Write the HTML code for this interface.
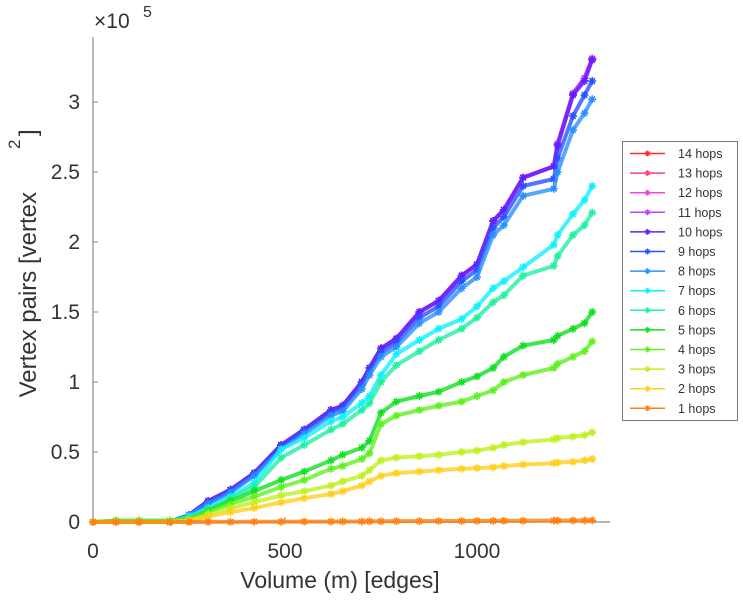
<!DOCTYPE html>
<html><head><meta charset="utf-8">
<style>
html,body{margin:0;padding:0;background:#fff;}
svg{display:block;font-family:"Liberation Sans",Arial,sans-serif;}
</style></head>
<body>
<svg id="chart" width="743" height="600" viewBox="0 0 743 600"></svg>
<script>
const xVals = [0,60,120,200,250,300,358,420,490,550,620,650,700,720,750,790,850,900,960,1000,1042,1070,1120,1200,1210,1250,1280,1300];
const s10 = [0,0,0,0,0.05,0.15,0.23,0.35,0.55,0.66,0.8,0.83,1.0,1.1,1.24,1.31,1.5,1.58,1.76,1.84,2.15,2.23,2.46,2.54,2.69,3.05,3.15,3.3];
const s11 = [0,0,0,0,0.05,0.15,0.23,0.35,0.55,0.66,0.8,0.83,1.0,1.1,1.24,1.31,1.5,1.58,1.76,1.84,2.15,2.23,2.46,2.54,2.7,3.06,3.17,3.31];
const s12 = s11.slice();
const s13 = s11.slice();
const s14 = s11.slice();
const s9 = [0,0,0,0,0.05,0.14,0.22,0.34,0.54,0.65,0.78,0.81,0.98,1.08,1.21,1.28,1.46,1.54,1.72,1.8,2.1,2.18,2.4,2.45,2.6,2.9,3.05,3.15];
const s8 = [0,0,0,0,0.05,0.13,0.21,0.33,0.52,0.63,0.76,0.79,0.95,1.05,1.18,1.25,1.42,1.5,1.67,1.75,2.05,2.12,2.33,2.38,2.5,2.8,2.92,3.02];
const s7 = [0,0,0,0,0.04,0.1,0.18,0.28,0.52,0.6,0.72,0.75,0.85,0.9,1.05,1.2,1.3,1.38,1.45,1.54,1.67,1.72,1.82,1.98,2.05,2.2,2.3,2.4];
const s6 = [0,0,0,0,0.03,0.09,0.17,0.25,0.46,0.55,0.66,0.7,0.8,0.85,1.0,1.12,1.22,1.3,1.38,1.46,1.57,1.62,1.76,1.83,1.9,2.05,2.12,2.21];
const s5 = [0,0.01,0.01,0.01,0.02,0.08,0.15,0.22,0.3,0.36,0.44,0.48,0.53,0.58,0.78,0.86,0.9,0.93,1.0,1.04,1.1,1.18,1.26,1.3,1.33,1.38,1.42,1.5];
const s4 = [0,0.01,0.01,0.01,0.02,0.07,0.13,0.18,0.25,0.3,0.38,0.4,0.45,0.49,0.7,0.76,0.8,0.83,0.86,0.9,0.94,1.0,1.05,1.1,1.13,1.18,1.22,1.29];
const s3 = [0,0,0,0,0.01,0.05,0.1,0.14,0.19,0.22,0.26,0.29,0.33,0.37,0.44,0.46,0.47,0.48,0.5,0.51,0.53,0.55,0.57,0.59,0.6,0.61,0.62,0.64];
const s2 = [0,0,0,0,0.01,0.04,0.07,0.1,0.14,0.17,0.2,0.22,0.26,0.29,0.33,0.35,0.36,0.37,0.38,0.385,0.39,0.4,0.41,0.42,0.425,0.43,0.44,0.45];
const s1 = [0,0,0,0,0,0.001,0.001,0.002,0.002,0.003,0.003,0.004,0.004,0.005,0.005,0.006,0.006,0.007,0.007,0.008,0.008,0.009,0.009,0.01,0.01,0.011,0.011,0.012];
const seriesNames = ["14 hops","13 hops","12 hops","11 hops","10 hops","9 hops","8 hops","7 hops","6 hops","5 hops","4 hops","3 hops","2 hops","1 hops"];
const seriesData = [s14,s13,s12,s11,s10,s9,s8,s7,s6,s5,s4,s3,s2,s1];
const colors = ["#ff2a2a","#ff3c8c","#ff40e0","#c040ff","#6020ff","#2a50ff","#2a90ff","#10f0ff","#20f0a0","#10e020","#60f020","#c0f020","#ffd020","#ff8010"];
const xTicks = [0,500,1000];
const yTicks = [0,0.5,1,1.5,2,2.5,3];
const yTickLabels = ["0","0.5","1","1.5","2","2.5","3"];

const NS = "http://www.w3.org/2000/svg";
const svg = document.getElementById("chart");
const X0 = 93, Y0 = 522, XR = 610, YT = 37;
function xs(v){ return X0 + v*0.384; }
function ys(v){ return Y0 - v*140; }
function mk(tag, attrs, parent){
  const e = document.createElementNS(NS, tag);
  for (const k in attrs) e.setAttribute(k, attrs[k]);
  (parent||svg).appendChild(e);
  return e;
}
function star(g, cx, cy, r, color, w){
  const d = `M${cx-r},${cy}H${cx+r}M${cx},${cy-r}V${cy+r}M${cx-r*0.7},${cy-r*0.7}L${cx+r*0.7},${cy+r*0.7}M${cx-r*0.7},${cy+r*0.7}L${cx+r*0.7},${cy-r*0.7}`;
  const p = mk("path", {d:d, stroke:color, "stroke-width":w||1.2, fill:"none"}, g);
  
  
}

// axes
const axes = mk("g", {});


const xl = mk("line", {x1:X0, y1:Y0, x2:XR, y2:Y0, stroke:"#888", "stroke-width":1.2}, axes);


const yl = mk("line", {x1:X0, y1:Y0, x2:X0, y2:YT, stroke:"#888", "stroke-width":1.2}, axes);


xTicks.forEach(t => {
  const tk = mk("line", {x1:xs(t), y1:Y0, x2:xs(t), y2:Y0-5, stroke:"#888"}, axes);
  
  
  const tx = mk("text", {x:xs(t), y:558, "text-anchor":"middle", "font-size":21, fill:"#333"}, axes);
  tx.textContent = String(t);
  
  
});
yTicks.forEach((t,i) => {
  const tk = mk("line", {x1:X0, y1:ys(t), x2:X0+5, y2:ys(t), stroke:"#888"}, axes);
  
  
  const tx = mk("text", {x:80, y:ys(t)+7, "text-anchor":"end", "font-size":21, fill:"#333"}, axes);
  tx.textContent = yTickLabels[i];
  
  
});

// series
const plot = mk("g", {});


seriesData.forEach((arr, si) => {
  const g = mk("g", {}, plot);
  
  
  const pts = arr.map((v,i) => xs(xVals[i]) + "," + ys(v)).join(" ");
  const pl = mk("polyline", {points:pts, fill:"none", stroke:colors[si], "stroke-width":4, "stroke-opacity":0.8, "stroke-linejoin":"round"}, g);
  
  
  arr.forEach((v,i) => star(g, xs(xVals[i]), ys(v), 4, colors[si], 1.5));
});

// labels
const xt = mk("text", {x:340, y:588, "text-anchor":"middle", "font-size":23, fill:"#333"});
xt.textContent = "Volume (m) [edges]";


const yt = mk("text", {transform:"translate(36,192) rotate(-90)", "text-anchor":"end", "font-size":24, fill:"#333"});
yt.textContent = "Vertex pairs [vertex";


const ys2 = mk("text", {transform:"translate(20,149) rotate(-90)", "text-anchor":"start", "font-size":17, fill:"#333"});
ys2.textContent = "2";


const ys3 = mk("text", {transform:"translate(36,136) rotate(-90)", "text-anchor":"start", "font-size":24, fill:"#333"});
ys3.textContent = "]";


const mult = mk("text", {x:94, y:28, "font-size":21, fill:"#333"});
mult.textContent = "\u00d710";


const mexp = mk("text", {x:143, y:17, "font-size":16, fill:"#333"});
mexp.textContent = "5";



// legend
const lg = mk("g", {});


const lb = mk("rect", {x:622.5, y:141.5, width:115, height:279, fill:"#fff", stroke:"#777", "stroke-width":1}, lg);


seriesNames.forEach((n, i) => {
  const y = 153.5 + i*19.6;
  const e = mk("g", {}, lg);
  
  
  mk("line", {x1:630, y1:y, x2:665, y2:y, stroke:colors[i], "stroke-width":1.5}, e);
  star(e, 647.5, y, 3, colors[i], 1.2);
  const t = mk("text", {x:678, y:y+4.5, "font-size":12.5, fill:"#333"}, e);
  t.textContent = n;
});
</script>
</body></html>
